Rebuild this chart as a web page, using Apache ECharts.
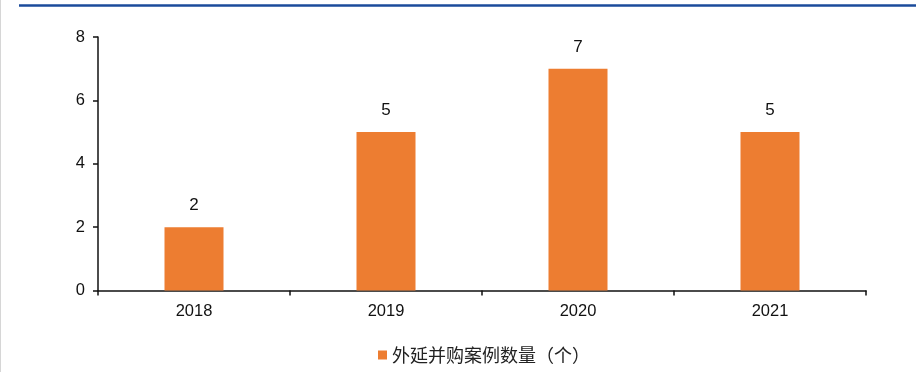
<!DOCTYPE html>
<html>
<head>
<meta charset="utf-8">
<script src="https://cdn.jsdelivr.net/npm/echarts@6/dist/echarts.min.js"></script>
<style>
html,body{margin:0;padding:0;background:#fff;}
#chart{width:916px;height:372px;}
</style>
</head>
<body>
<div id="chart"></div>
<script>
const categories = ['2018', '2019', '2020', '2021'];
const dealCounts = [2, 5, 7, 5];
const seriesName = '外延并购案例数量（个）';
const yTicks = { min: 0, max: 8, interval: 2 };

const chart = echarts.init(document.getElementById('chart'));
chart.setOption({
  animation: false,
  backgroundColor: '#fff',
  grid: { left: 98, right: 50, top: 37, bottom: 81.5, containLabel: false },
  graphic: [
    { type: 'line', shape: { x1: 19, y1: 5.5, x2: 916, y2: 5.5 }, style: { stroke: '#1b4b9b', lineWidth: 2.5 }, silent: true },
    { type: 'line', shape: { x1: 0.5, y1: 0, x2: 0.5, y2: 372 }, style: { stroke: '#d6d6d6', lineWidth: 1 }, silent: true }
  ],
  legend: {
    left: 373, top: 341,
    itemWidth: 9, itemHeight: 9, itemGap: 6,
    icon: 'rect',
    textStyle: { fontFamily: 'Noto Sans CJK SC', fontSize: 18, color: '#222', padding: [0, 0, 0, 0] },
    data: [seriesName]
  },
  xAxis: {
    type: 'category',
    data: categories,
    axisLine: { lineStyle: { color: '#111', width: 1.5 } },
    axisTick: { show: true, length: 5, lineStyle: { color: '#111', width: 1.5 } },
    axisLabel: { margin: 12, fontSize: 16.5, color: '#111', fontFamily: 'Liberation Sans' }
  },
  yAxis: {
    type: 'value',
    min: yTicks.min, max: yTicks.max, interval: yTicks.interval,
    axisLine: { show: true, lineStyle: { color: '#111', width: 1.5 } },
    axisTick: { show: true, length: 5, lineStyle: { color: '#111', width: 1.5 } },
    splitLine: { show: false },
    axisLabel: { margin: 13, fontSize: 16.5, color: '#111', fontFamily: 'Liberation Sans' }
  },
  series: [{
    name: seriesName,
    type: 'bar',
    data: dealCounts,
    barWidth: 59,
    itemStyle: { color: '#ED7D31' },
    label: { show: true, position: 'top', distance: 13, fontSize: 17, color: '#111', fontFamily: 'Liberation Sans' }
  }]
});
</script>
</body>
</html>
